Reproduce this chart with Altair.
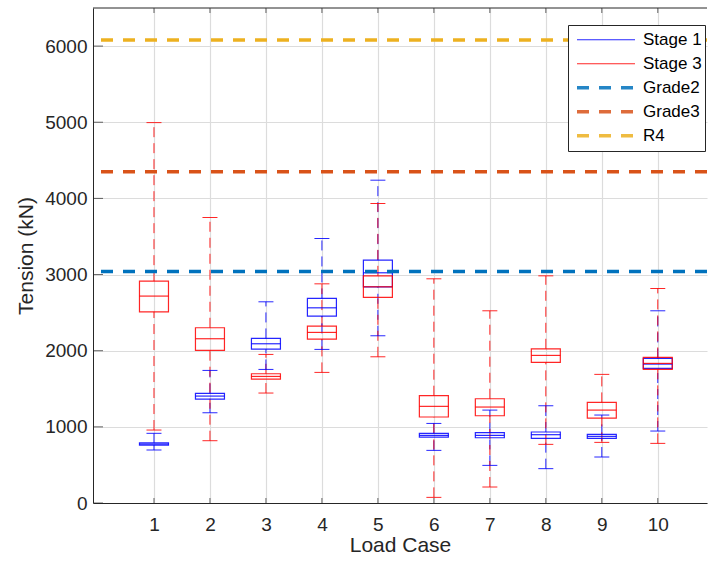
import altair as alt
import pandas as pd

cases = [1, 2, 3, 4, 5, 6, 7, 8, 9, 10]

# Stage 1 box statistics (kN)
s1_low = [696, 1185, 1754, 2017, 2196, 691, 494, 451, 604, 945]
s1_q1 = [761, 1365, 2021, 2454, 2839, 866, 857, 849, 849, 1767]
s1_med = [774, 1404, 2091, 2563, 3023, 888, 888, 897, 875, 1824]
s1_q3 = [790, 1439, 2161, 2686, 3189, 914, 923, 932, 901, 1898]
s1_high = [915, 1741, 2642, 3473, 4239, 1045, 1220, 1277, 1155, 2524]

# Stage 3 box statistics (kN)
s3_low = [958, 818, 1444, 1715, 1920, 74, 210, 770, 796, 783]
s3_q1 = [2511, 2004, 1627, 2152, 2699, 1129, 1146, 1846, 1115, 1754]
s3_med = [2717, 2157, 1662, 2240, 2839, 1269, 1260, 1938, 1220, 1833]
s3_q3 = [2913, 2301, 1697, 2323, 2983, 1409, 1369, 2025, 1321, 1912]
s3_high = [4995, 3749, 1951, 2878, 3933, 2944, 2524, 2983, 1689, 2817]

grade_names = ["Grade2", "Grade3", "R4"]
grade_values = [3040, 4350, 6080]

series_names = ["Stage 1", "Stage 3", "Grade2", "Grade3", "R4"]
series_colors = ["#0000FF", "#FF0000", "#0072BD", "#D95319", "#EDB120"]

y_ticks = [0, 1000, 2000, 3000, 4000, 5000, 6000]

rows = []
for name, lo, q1, md, q3, hi in [
    ("Stage 1", s1_low, s1_q1, s1_med, s1_q3, s1_high),
    ("Stage 3", s3_low, s3_q1, s3_med, s3_q3, s3_high),
]:
    for i, c in enumerate(cases):
        rows.append(dict(series=name, case=c, low=lo[i], q1=q1[i], med=md[i], q3=q3[i], high=hi[i]))
box_df = pd.DataFrame(rows)
grade_df = pd.DataFrame({"series": grade_names, "value": grade_values})
xtick_df = pd.DataFrame({"case": cases, "bottom": [0] * len(cases), "top": [6500] * len(cases)})
ytick_df = pd.DataFrame({"v": y_ticks, "x0": [0] * len(y_ticks)})

FONT = "Liberation Sans"
X_DOMAIN = [0, 10.79]
Y_DOMAIN = [0, 6500]

xs = alt.Scale(domain=X_DOMAIN, nice=False, zero=False)
ys = alt.Scale(domain=Y_DOMAIN, nice=False)

color_scale = alt.Scale(domain=series_names, range=series_colors)
legend = alt.Legend(
    title=None, orient="none", legendX=475, legendY=17,
    symbolType="stroke", symbolSize=3364, clipHeight=23.5, symbolOffset=4,
    labelFont=FONT, labelFontSize=17, labelColor="black", labelOffset=6,
    labelExpr="datum.label + ' '",
    strokeColor="#262626", fillColor="white", padding=3, rowPadding=0,
)

x_enc = alt.X("case:Q", scale=xs, axis=alt.Axis(values=cases, title="Load Case", format="d"))
y_axis = alt.Axis(values=y_ticks, title="Tension (kN)", format="d")
color_enc = alt.Color("series:N", scale=color_scale, legend=legend)

base = alt.Chart(box_df)

stage_opacity = 0.85
whisk_up = base.mark_rule(strokeDash=[10, 6], strokeWidth=1, opacity=stage_opacity).encode(
    x=x_enc, y=alt.Y("q3:Q", scale=ys, axis=y_axis), y2="high:Q", color=color_enc)
whisk_lo = base.mark_rule(strokeDash=[10, 6], strokeWidth=1, opacity=stage_opacity).encode(
    x=x_enc, y=alt.Y("low:Q", scale=ys, axis=y_axis), y2="q1:Q", color=color_enc)
cap_hi = base.mark_tick(orient="horizontal", size=15, thickness=1, opacity=stage_opacity).encode(
    x=x_enc, y=alt.Y("high:Q", scale=ys, axis=y_axis), color=color_enc)
cap_lo = base.mark_tick(orient="horizontal", size=15, thickness=1, opacity=stage_opacity).encode(
    x=x_enc, y=alt.Y("low:Q", scale=ys, axis=y_axis), color=color_enc)
boxes = base.mark_bar(filled=False, size=29, strokeWidth=1.2, opacity=stage_opacity).encode(
    x=x_enc, y=alt.Y("q1:Q", scale=ys, axis=y_axis), y2="q3:Q", color=color_enc)
medians = base.mark_tick(orient="horizontal", size=29, thickness=1.2, opacity=stage_opacity).encode(
    x=x_enc, y=alt.Y("med:Q", scale=ys, axis=y_axis), color=color_enc)

grades = alt.Chart(grade_df).mark_rule().encode(
    y=alt.Y("value:Q", scale=ys, axis=y_axis),
    color=color_enc,
    strokeDash=alt.StrokeDash("series:N", scale=alt.Scale(
        domain=series_names, range=[[1, 0], [1, 0], [12, 10], [12, 10], [12, 10]]), legend=legend),
    strokeWidth=alt.StrokeWidth("series:N", scale=alt.Scale(
        type="ordinal", domain=series_names, range=[1, 1, 3.5, 3.5, 3.5]), legend=legend),
)

tick_color = "#262626"
xt_bottom = alt.Chart(xtick_df).mark_tick(orient="vertical", size=10, thickness=1, color=tick_color, clip=True).encode(
    x=x_enc, y=alt.Y("bottom:Q", scale=ys, axis=y_axis))
xt_top = alt.Chart(xtick_df).mark_tick(orient="vertical", size=10, thickness=1, color=tick_color, clip=True).encode(
    x=x_enc, y=alt.Y("top:Q", scale=ys, axis=y_axis))
yt_left = alt.Chart(ytick_df).mark_tick(orient="horizontal", size=10, thickness=1, color=tick_color, clip=True).encode(
    x=alt.X("x0:Q", scale=xs, axis=alt.Axis(values=cases, title="Load Case", format="d")),
    y=alt.Y("v:Q", scale=ys, axis=y_axis))
top_border = alt.Chart(xtick_df).mark_rule(color=tick_color, strokeWidth=1).encode(
    y=alt.Y("max(top):Q", scale=ys, axis=y_axis))

chart = alt.layer(
    xt_bottom, xt_top, yt_left,
    whisk_up, whisk_lo, cap_hi, cap_lo, boxes, medians,
    grades, top_border,
).properties(
    width=614, height=495,
    autosize=alt.AutoSizeParams(type="none"),
    padding={"left": 93, "top": 8, "right": 1, "bottom": 62},
    background="white",
).configure_view(stroke=None).configure_axis(
    grid=True, gridColor="#dcdcdc", gridWidth=1.2,
    domainColor=tick_color, domainWidth=1, ticks=False,
    labelFont=FONT, labelFontSize=19, labelColor=tick_color,
    titleFont=FONT, titleFontSize=21, titleFontWeight="normal", titleColor=tick_color,
).configure_axisX(labelPadding=12, titlePadding=0).configure_axisY(labelPadding=6, titlePadding=8)

chart.save("out.html", embed_options={"renderer": "svg", "actions": False})
